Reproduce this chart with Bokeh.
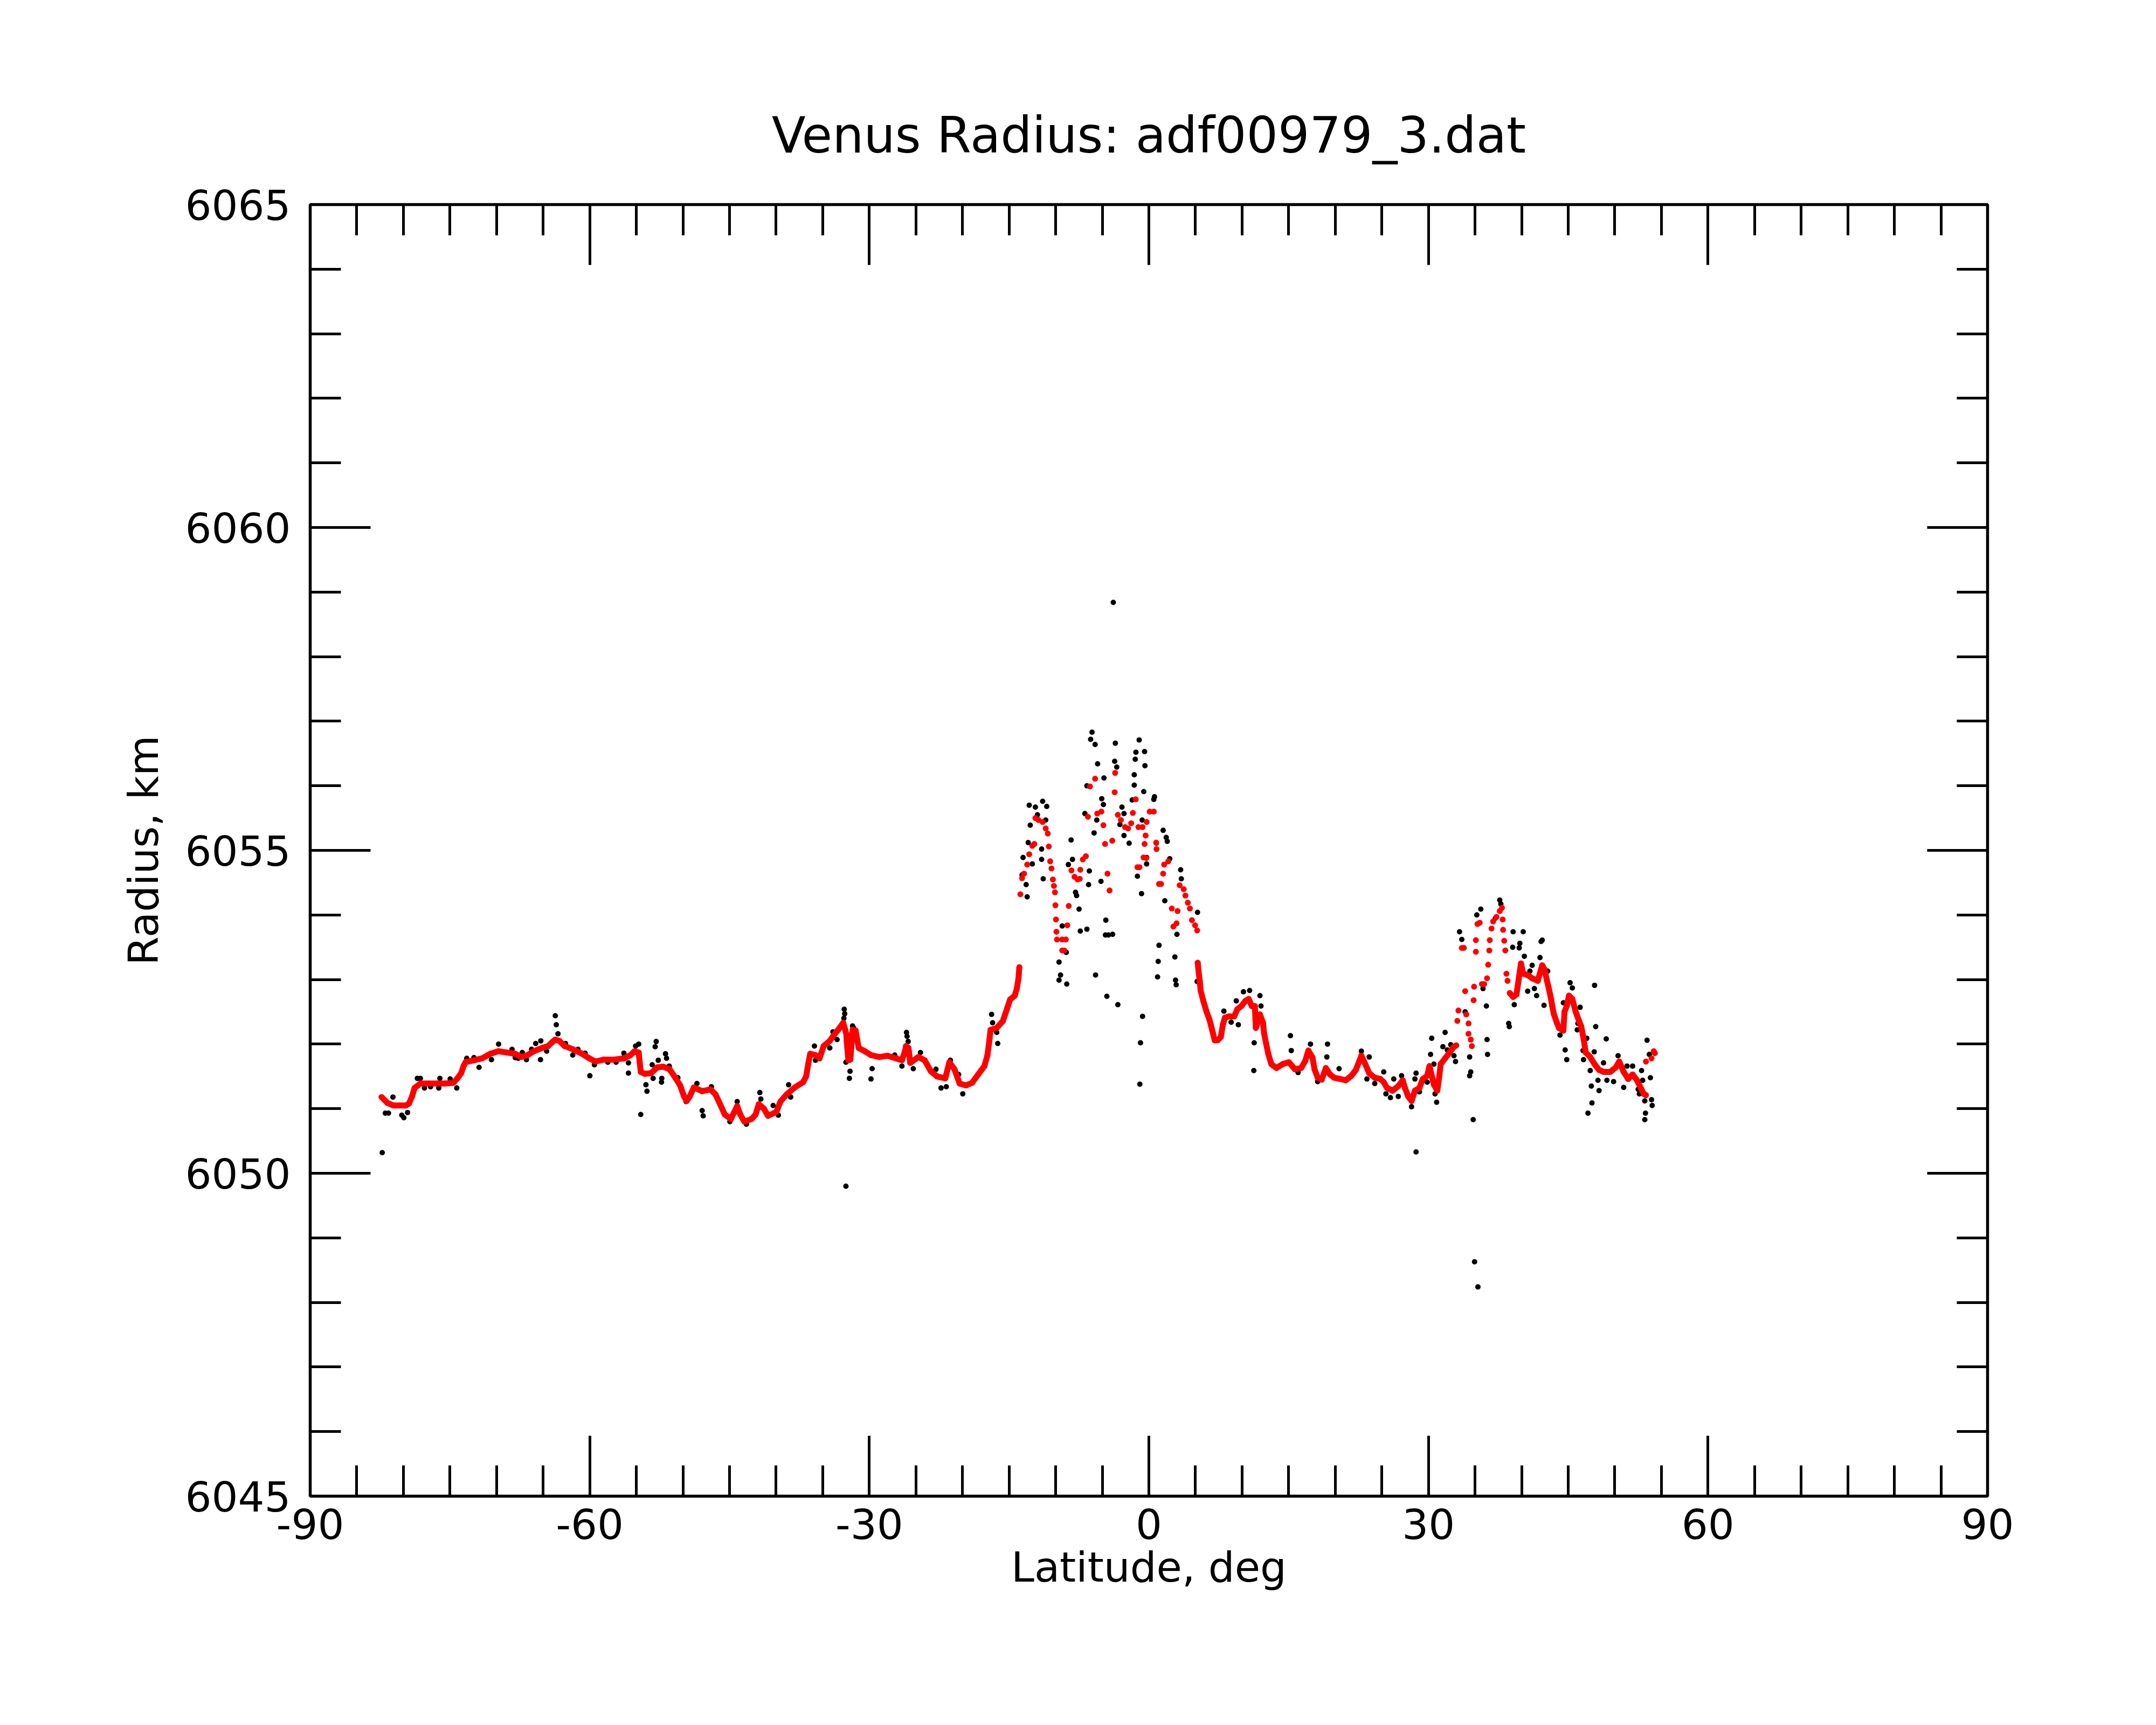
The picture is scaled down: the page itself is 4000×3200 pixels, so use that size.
from bokeh.plotting import figure
from bokeh.models import LinearAxis, FixedTicker, Range1d
from bokeh.embed import file_html
from bokeh.resources import INLINE

# ---------------- data (latitude deg, radius km) ----------------
# red: smoothed profile, continuous southern stretch
red_south = [
    (-82.34, 6051.18), (-81.72, 6051.09), (-81.06, 6051.05), (-80.40, 6051.05), (-79.73, 6051.05),
    (-79.40, 6051.08), (-79.07, 6051.19), (-78.80, 6051.32), (-78.18, 6051.39), (-77.30, 6051.39),
    (-76.40, 6051.39), (-75.53, 6051.39), (-74.64, 6051.40), (-74.20, 6051.47), (-73.80, 6051.55),
    (-73.54, 6051.66), (-73.32, 6051.72), (-72.43, 6051.75), (-71.55, 6051.78), (-70.66, 6051.85),
    (-69.78, 6051.89), (-68.90, 6051.87), (-68.00, 6051.85), (-67.35, 6051.80), (-66.68, 6051.83),
    (-66.00, 6051.89), (-65.14, 6051.94), (-64.47, 6051.97), (-64.03, 6052.03), (-63.70, 6052.07),
    (-63.26, 6052.05), (-62.70, 6051.97), (-61.82, 6051.92), (-60.94, 6051.86), (-60.05, 6051.78),
    (-59.39, 6051.73), (-58.50, 6051.76), (-57.40, 6051.76), (-56.30, 6051.78), (-55.63, 6051.83),
    (-55.19, 6051.89), (-54.75, 6051.87), (-54.64, 6051.72), (-54.53, 6051.57), (-54.08, 6051.54),
    (-53.42, 6051.55), (-52.76, 6051.64), (-52.10, 6051.65), (-51.43, 6051.61), (-50.77, 6051.47),
    (-50.30, 6051.36), (-49.88, 6051.19), (-49.60, 6051.12), (-49.27, 6051.19), (-48.83, 6051.33),
    (-47.94, 6051.27), (-47.06, 6051.30), (-46.50, 6051.22), (-45.95, 6051.05), (-45.51, 6050.91),
    (-44.85, 6050.84), (-44.52, 6050.94), (-44.18, 6051.04), (-43.85, 6050.91), (-43.41, 6050.80),
    (-42.64, 6050.84), (-42.20, 6050.91), (-41.86, 6051.07), (-41.31, 6051.00), (-40.87, 6050.89),
    (-39.98, 6050.95), (-39.54, 6051.11), (-38.88, 6051.22), (-37.99, 6051.33), (-37.11, 6051.41),
    (-36.78, 6051.50), (-36.56, 6051.69), (-36.34, 6051.85), (-35.78, 6051.83), (-35.34, 6051.78),
    (-34.90, 6051.97), (-34.24, 6052.05), (-33.80, 6052.14), (-33.35, 6052.22), (-32.80, 6052.33),
    (-32.47, 6052.16), (-32.42, 6052.04), (-32.36, 6051.94), (-32.25, 6051.75), (-32.03, 6051.76),
    (-31.80, 6052.22), (-31.47, 6052.21), (-31.14, 6051.94), (-30.48, 6051.89), (-29.82, 6051.83),
    (-28.93, 6051.80), (-28.05, 6051.82), (-27.16, 6051.78), (-26.50, 6051.75), (-26.17, 6051.89),
    (-26.06, 6051.97), (-25.79, 6051.94), (-25.61, 6051.71), (-24.73, 6051.80), (-24.06, 6051.75),
    (-23.40, 6051.58), (-22.74, 6051.50), (-21.85, 6051.47), (-21.41, 6051.72), (-20.86, 6051.61),
    (-20.31, 6051.39), (-19.64, 6051.36), (-18.98, 6051.40), (-18.32, 6051.53), (-17.65, 6051.66),
    (-17.32, 6051.83), (-17.10, 6052.08), (-16.99, 6052.22), (-16.33, 6052.25), (-15.66, 6052.36),
    (-15.22, 6052.55), (-14.89, 6052.69), (-14.39, 6052.75), (-14.17, 6052.86), (-13.99, 6053.02),
    (-13.90, 6053.19),
]
# red: scattered points over the equatorial highland
red_center = [
    (-13.79, 6054.32), (-13.61, 6054.57), (-13.39, 6054.64), (-13.06, 6054.78), (-12.84, 6054.94),
    (-12.51, 6055.07), (-12.29, 6055.10), (-12.18, 6055.50), (-11.85, 6055.47), (-11.40, 6055.44),
    (-11.07, 6055.34), (-10.85, 6055.26), (-10.74, 6055.06), (-10.59, 6054.83), (-10.45, 6054.72),
    (-10.30, 6054.55), (-10.19, 6054.45), (-10.08, 6054.35), (-10.03, 6054.15), (-9.97, 6053.93),
    (-9.92, 6053.74), (-9.86, 6053.62), (-9.30, 6053.62), (-8.91, 6053.62), (-9.30, 6053.45),
    (-9.08, 6053.45), (-8.75, 6053.84), (-8.60, 6054.14), (-8.31, 6054.69), (-7.98, 6054.59),
    (-7.65, 6054.55), (-7.42, 6054.56), (-7.36, 6054.70), (-7.09, 6054.86), (-6.76, 6054.91),
    (-6.54, 6055.52), (-6.32, 6055.99), (-5.77, 6056.11), (-5.54, 6055.57), (-5.10, 6055.60),
    (-4.88, 6055.39), (-4.70, 6055.10), (-4.44, 6054.64), (-4.22, 6054.38), (-3.93, 6055.15),
    (-3.67, 6055.90), (-3.62, 6056.20), (-3.33, 6055.55), (-3.00, 6055.47), (-2.56, 6055.36),
    (-2.23, 6055.34), (-1.90, 6055.42), (-1.72, 6055.58), (-1.41, 6055.79), (-1.12, 6055.36),
    (-0.68, 6055.36), (-0.35, 6055.23), (-0.24, 6055.44), (0.09, 6055.60), (0.53, 6055.60),
    (-0.46, 6055.10), (-0.28, 6054.88), (-0.57, 6054.89), (-1.01, 6054.74), (-1.23, 6054.74),
    (0.78, 6055.12), (0.82, 6055.02), (1.64, 6054.78), (2.08, 6054.83), (1.53, 6054.64),
    (1.31, 6054.48), (1.09, 6054.48), (2.46, 6054.10), (3.08, 6054.06), (2.97, 6053.87),
    (2.63, 6053.82), (3.30, 6054.46), (3.74, 6054.40), (3.92, 6054.30), (4.18, 6054.19),
    (4.40, 6054.10), (4.62, 6053.92), (4.96, 6053.84), (5.18, 6053.76),
]
# red: continuous stretch north of the highland
red_mid = [
    (5.24, 6053.26), (5.33, 6053.13), (5.46, 6052.98), (5.55, 6052.83), (5.84, 6052.67),
    (6.17, 6052.51), (6.50, 6052.38), (6.79, 6052.22), (7.06, 6052.06), (7.39, 6052.06),
    (7.72, 6052.11), (7.94, 6052.30), (8.16, 6052.41), (8.60, 6052.43), (9.16, 6052.43),
    (9.49, 6052.54), (9.93, 6052.59), (10.37, 6052.67), (10.70, 6052.70), (11.04, 6052.59),
    (11.37, 6052.59), (11.48, 6052.25), (11.92, 6052.46), (12.25, 6052.33), (12.36, 6052.17),
    (12.58, 6052.01), (12.81, 6051.85), (13.14, 6051.69), (13.69, 6051.63), (14.35, 6051.69),
    (15.02, 6051.72), (15.68, 6051.61), (16.34, 6051.63), (16.78, 6051.74), (17.12, 6051.90),
    (17.56, 6051.79), (17.78, 6051.61), (18.11, 6051.48), (18.55, 6051.45), (18.99, 6051.63),
    (19.44, 6051.53), (19.88, 6051.48), (20.20, 6051.47), (20.53, 6051.46), (21.13, 6051.44),
    (21.73, 6051.51), (22.21, 6051.60), (22.56, 6051.73), (22.80, 6051.82), (23.16, 6051.71),
    (23.64, 6051.55), (24.24, 6051.48), (24.84, 6051.46), (25.20, 6051.41), (25.56, 6051.32),
    (26.16, 6051.28), (26.76, 6051.35), (27.24, 6051.44), (27.48, 6051.32), (27.83, 6051.19),
    (28.19, 6051.12), (28.55, 6051.28), (29.03, 6051.32), (29.39, 6051.46), (29.87, 6051.51),
    (30.11, 6051.66), (30.59, 6051.37), (30.95, 6051.28), (31.19, 6051.53), (31.31, 6051.69),
    (31.79, 6051.78), (32.27, 6051.87), (32.74, 6051.96), (32.98, 6051.98),
]
# red: scattered points over the northern rise
red_peak = [
    (33.10, 6052.36), (33.22, 6052.52), (33.58, 6053.49), (33.80, 6053.49), (33.94, 6052.82),
    (34.06, 6052.46), (34.30, 6052.32), (34.30, 6052.16), (34.54, 6052.07), (34.66, 6051.97),
    (34.85, 6052.68), (34.90, 6052.89), (35.09, 6053.61), (35.09, 6053.43), (35.26, 6053.86),
    (35.50, 6053.88), (35.74, 6052.93), (35.98, 6052.93), (36.29, 6053.02), (36.41, 6053.23),
    (36.53, 6053.45), (36.58, 6053.61), (36.77, 6053.79), (36.94, 6053.90), (37.30, 6053.97),
    (37.65, 6054.06), (37.89, 6054.11), (37.97, 6053.93), (38.01, 6053.77), (38.13, 6053.60),
    (38.25, 6053.45), (38.37, 6053.09), (38.49, 6052.98),
]
# red: continuous northern stretch
red_north = [
    (38.73, 6052.79), (39.09, 6052.73), (39.45, 6052.77), (39.93, 6053.25), (40.17, 6053.09),
    (40.65, 6053.07), (41.13, 6053.02), (41.73, 6052.98), (42.21, 6053.22), (42.45, 6053.16),
    (42.69, 6053.00), (42.92, 6052.86), (43.16, 6052.70), (43.28, 6052.59), (43.47, 6052.46),
    (43.76, 6052.34), (44.00, 6052.25), (44.48, 6052.21), (44.60, 6052.50), (44.84, 6052.59),
    (45.08, 6052.75), (45.44, 6052.70), (45.80, 6052.50), (46.16, 6052.36), (46.40, 6052.27),
    (46.64, 6052.09), (46.88, 6051.87), (47.36, 6051.80), (47.83, 6051.69), (48.31, 6051.60),
    (48.79, 6051.57), (49.51, 6051.57), (50.11, 6051.64), (50.47, 6051.73), (50.95, 6051.57),
    (51.43, 6051.46), (51.91, 6051.53), (52.38, 6051.44), (53.10, 6051.23), (53.34, 6051.21),
]
red_tail = [(53.34, 6051.73), (53.94, 6051.78), (54.18, 6051.89), (54.30, 6051.86)]

# black: individual radius measurements
black_points = [
    (-82.27, 6050.32), (-81.94, 6050.93), (-81.60, 6050.93), (-81.12, 6051.18), (-80.17, 6050.90),
    (-79.95, 6050.86), (-79.55, 6050.94), (-78.50, 6051.47), (-78.18, 6051.47), (-77.74, 6051.32),
    (-77.08, 6051.34), (-76.08, 6051.47), (-76.20, 6051.32), (-74.98, 6051.46), (-74.27, 6051.32),
    (-73.20, 6051.78), (-72.43, 6051.79), (-71.88, 6051.64), (-71.00, 6051.83), (-70.55, 6051.76),
    (-69.78, 6052.00), (-68.34, 6051.92), (-68.00, 6051.79), (-67.68, 6051.78), (-67.24, 6051.87),
    (-66.80, 6051.76), (-66.24, 6051.92), (-65.80, 6052.01), (-65.25, 6052.05), (-65.29, 6051.76),
    (-64.63, 6051.89), (-63.70, 6052.44), (-63.59, 6052.30), (-63.41, 6052.16), (-62.60, 6052.01),
    (-61.82, 6051.83), (-61.27, 6051.92), (-60.50, 6051.86), (-59.99, 6051.51), (-59.50, 6051.68),
    (-58.06, 6051.72), (-57.18, 6051.72), (-56.34, 6051.86), (-55.85, 6051.55), (-55.85, 6051.71),
    (-55.08, 6051.97), (-54.75, 6052.00), (-54.53, 6050.91), (-53.86, 6051.27), (-53.97, 6051.37),
    (-53.20, 6051.47), (-53.30, 6051.68), (-52.87, 6052.04), (-52.98, 6051.96), (-52.65, 6051.75),
    (-52.27, 6051.47), (-52.30, 6051.41), (-51.87, 6051.85), (-51.76, 6051.78), (-51.47, 6051.66),
    (-50.55, 6051.48), (-49.66, 6051.11),
    (-48.50, 6051.39), (-47.94, 6050.97), (-47.83, 6050.89), (-46.95, 6051.34), (-44.96, 6050.80),
    (-44.18, 6051.11), (-43.19, 6050.76), (-41.75, 6051.25), (-41.64, 6051.15), (-40.32, 6051.05),
    (-39.76, 6050.90), (-38.66, 6051.37), (-38.44, 6051.18), (-35.89, 6051.97), (-35.78, 6051.75),
    (-34.24, 6051.94), (-33.46, 6052.07), (-33.90, 6052.19), (-32.69, 6052.54), (-32.64, 6052.47),
    (-32.73, 6052.40), (-32.51, 6051.72), (-32.07, 6051.58), (-32.14, 6051.47), (-32.51, 6049.80),
    (-31.80, 6052.28), (-31.69, 6052.25), (-29.70, 6051.62), (-29.82, 6051.46), (-27.27, 6051.83),
    (-26.50, 6051.66), (-26.01, 6052.18), (-25.95, 6052.12), (-25.83, 6052.04), (-25.28, 6051.62),
    (-24.51, 6051.87), (-22.85, 6051.61), (-22.30, 6051.32), (-21.74, 6051.34), (-21.30, 6051.75),
    (-20.42, 6051.53), (-19.97, 6051.23), (-16.88, 6052.46), (-16.77, 6052.33), (-16.33, 6052.18),
    (-16.22, 6052.01),
    (-13.50, 6054.89), (-13.17, 6054.47), (-13.06, 6054.28), (-13.61, 6054.62), (-12.84, 6055.70),
    (-12.18, 6055.67), (-11.40, 6055.76), (-10.96, 6055.68), (-11.96, 6055.55), (-11.07, 6055.47),
    (-12.73, 6055.39), (-12.95, 6055.12), (-12.51, 6054.79), (-11.51, 6055.02), (-11.51, 6054.86),
    (-11.34, 6054.56), (-9.64, 6053.27), (-9.48, 6053.07), (-9.64, 6052.99), (-8.81, 6052.93),
    (-9.30, 6053.83), (-8.86, 6053.42), (-8.35, 6055.16), (-8.20, 6054.86), (-8.64, 6054.78),
    (-7.87, 6054.35), (-7.76, 6054.30), (-7.49, 6054.09), (-7.36, 6053.75), (-6.65, 6053.78),
    (-6.39, 6054.68), (-6.47, 6054.47), (-6.87, 6055.57), (-6.65, 6056.00), (-6.10, 6056.83),
    (-6.25, 6056.72), (-5.77, 6056.64), (-5.50, 6056.34), (-5.14, 6054.52), (-5.72, 6053.07),
    (-5.06, 6055.80), (-4.88, 6055.71), (-5.88, 6055.27), (-5.59, 6055.47), (-4.82, 6056.12),
    (-4.62, 6053.92), (-4.66, 6053.69), (-4.33, 6053.69), (-3.89, 6053.70), (-4.51, 6052.74),
    (-3.33, 6052.61), (-3.82, 6058.84), (-3.60, 6056.66), (-3.67, 6056.38), (-3.45, 6056.29),
    (-2.89, 6055.67), (-2.67, 6055.57), (-2.67, 6055.23), (-2.12, 6055.11), (-3.11, 6055.40),
    (-1.57, 6056.17), (-1.57, 6056.01), (-1.46, 6056.41), (-1.39, 6056.52), (-1.04, 6056.71),
    (-0.46, 6056.53), (-0.42, 6056.31), (-0.55, 6055.91), (-1.79, 6055.78), (-0.72, 6055.47),
    (-1.23, 6054.60), (-0.24, 6054.89), (-0.24, 6054.79), (-0.79, 6054.33), (-0.68, 6052.43),
    (-0.90, 6052.02), (-0.97, 6051.38), (0.60, 6055.83), (0.53, 6055.79), (0.80, 6055.11),
    (1.53, 6055.31), (1.86, 6055.20), (1.97, 6055.14), (2.24, 6054.87), (1.71, 6054.22),
    (3.01, 6053.70), (1.09, 6053.53), (1.00, 6053.28), (0.93, 6053.04), (2.79, 6053.35),
    (2.86, 6052.99), (2.93, 6052.92), (3.41, 6054.70), (3.48, 6054.56), (5.22, 6054.04),
    (5.18, 6052.97), (8.05, 6052.51), (8.83, 6052.34), (9.38, 6052.67), (9.60, 6052.30),
    (10.15, 6052.81), (10.81, 6052.83), (11.92, 6052.75), (12.03, 6052.59), (11.30, 6052.02),
    (11.26, 6051.59), (15.19, 6052.13), (15.28, 6051.90), (16.01, 6051.56), (17.34, 6052.00),
    (19.17, 6052.00), (19.10, 6051.80), (18.11, 6051.42),
    (20.41, 6051.62), (22.80, 6051.89), (23.64, 6051.80), (23.40, 6051.46), (24.24, 6051.39),
    (25.20, 6051.57), (25.44, 6051.23), (25.92, 6051.17), (26.28, 6051.46), (26.76, 6051.19),
    (27.12, 6051.51), (28.19, 6051.03), (28.67, 6050.33), (28.67, 6051.55), (28.55, 6051.46),
    (29.03, 6051.26), (29.87, 6051.41), (30.23, 6051.84), (30.35, 6052.09), (30.59, 6051.69),
    (30.71, 6051.23), (30.88, 6051.10), (31.79, 6052.18), (31.55, 6051.96), (32.03, 6051.91),
    (32.39, 6051.99), (32.74, 6051.82), (32.91, 6051.73), (33.34, 6053.74), (33.58, 6053.62),
    (33.94, 6052.50), (34.42, 6051.80), (34.42, 6051.51), (34.54, 6051.57), (34.80, 6050.83),
    (34.95, 6048.63), (35.31, 6048.24), (35.19, 6054.00), (35.62, 6054.09), (35.86, 6052.86),
    (36.22, 6052.59), (36.29, 6052.07), (36.34, 6051.84), (37.18, 6053.95), (37.65, 6054.23),
    (37.77, 6054.17), (39.09, 6053.74), (40.17, 6053.74), (39.04, 6053.50), (39.81, 6053.56),
    (39.74, 6053.49), (40.29, 6053.36), (41.13, 6053.22), (40.89, 6053.13), (40.65, 6052.82),
    (41.37, 6052.86), (41.61, 6052.75), (42.09, 6053.59), (42.21, 6053.61), (41.97, 6053.34),
    (42.80, 6053.13), (42.40, 6052.60), (38.61, 6052.32), (38.68, 6052.27), (39.21, 6052.61),
    (45.20, 6052.95), (45.44, 6052.87), (44.48, 6052.64), (44.12, 6052.14), (44.67, 6051.91),
    (44.84, 6051.76), (46.28, 6052.57), (46.04, 6052.32), (45.97, 6052.22), (46.99, 6052.09),
    (46.59, 6051.90), (46.64, 6051.76), (47.83, 6052.91), (47.95, 6052.27), (47.79, 6051.88),
    (47.36, 6051.59), (47.48, 6051.35), (47.55, 6051.09), (47.12, 6050.93), (48.31, 6051.28),
    (48.19, 6051.44), (48.79, 6051.71), (49.08, 6052.08), (49.15, 6051.44), (49.87, 6051.42),
    (50.35, 6051.82), (50.95, 6051.33), (51.31, 6051.66), (51.91, 6051.66), (52.51, 6051.30),
    (52.87, 6051.59), (52.99, 6051.44), (52.63, 6051.23), (53.22, 6051.12), (53.29, 6050.93),
    (53.22, 6050.83), (53.46, 6052.06), (53.70, 6051.84), (53.82, 6051.48), (53.94, 6051.14),
    (54.01, 6051.05),
]

x_major = [-90, -60, -30, 0, 30, 60, 90]
x_minor = [v for v in range(-85, 90, 5) if v % 30 != 0]
y_major = [6045, 6050, 6055, 6060, 6065]
y_minor = [v for v in range(6046, 6065) if v % 5 != 0]

TITLE = "Venus Radius: adf00979_3.dat"
XLABEL = "Latitude, deg"
YLABEL = "Radius, km"
FONT = "DejaVu Sans"


def split(pairs):
    return [a for a, _ in pairs], [b for _, b in pairs]


p = figure(width=3984, height=3184, output_backend="svg", toolbar_location=None,
           x_range=Range1d(-90, 90), y_range=Range1d(6045, 6065),
           x_axis_type=None, y_axis_type=None,
           min_border_left=575, min_border_right=297,
           min_border_top=379, min_border_bottom=409,
           title=TITLE)
p.outline_line_color = "black"
p.outline_line_width = 5.5
p.background_fill_color = "white"
p.border_fill_color = "white"

p.title.text_font = FONT
p.title.text_font_size = "92px"
p.title.text_font_style = "normal"
p.title.text_color = "black"
p.title.align = "center"
p.title.standoff = 150


def make_axis(major, minor, show_labels, label=None, standoff=10, label_standoff=0):
    ax = LinearAxis(ticker=FixedTicker(ticks=major, minor_ticks=minor))
    ax.major_tick_in = 112
    ax.major_tick_out = 0
    ax.minor_tick_in = 57
    ax.minor_tick_out = 0
    ax.major_tick_line_width = 5
    ax.minor_tick_line_width = 5
    ax.major_tick_line_color = "black"
    ax.minor_tick_line_color = "black"
    ax.axis_line_color = None
    ax.major_label_text_font = FONT
    ax.major_label_text_color = "black"
    ax.major_label_standoff = standoff
    if show_labels:
        ax.major_label_text_font_size = "77px"
        ax.major_label_overrides = {v: str(v) for v in major}
    else:
        ax.major_label_text_font_size = "0px"
        ax.major_label_overrides = {v: "" for v in major}
    if label:
        ax.axis_label = label
        ax.axis_label_text_font = FONT
        ax.axis_label_text_font_size = "77px"
        ax.axis_label_text_font_style = "normal"
        ax.axis_label_text_color = "black"
        ax.axis_label_standoff = label_standoff
    return ax


p.add_layout(make_axis(x_major, x_minor, True, XLABEL, standoff=23, label_standoff=5), "below")
p.add_layout(make_axis(y_major, y_minor, True, YLABEL, standoff=36, label_standoff=30), "left")
p.add_layout(make_axis(x_major, x_minor, False), "above")
p.add_layout(make_axis(y_major, y_minor, False), "right")

bx, by = split(black_points)
p.scatter(bx, by, marker="circle", size=10, fill_color="black", line_color="black", line_width=0)

for seg in (red_south, red_mid, red_north):
    sx, sy = split(seg)
    p.line(sx, sy, line_color="red", line_width=11, line_join="round", line_cap="round")

for seg in (red_south, red_center, red_mid, red_peak, red_north, red_tail):
    sx, sy = split(seg)
    p.scatter(sx, sy, marker="circle", size=11, fill_color="red", line_color="red", line_width=0)

open("out.html", "w").write(file_html(p, INLINE))
